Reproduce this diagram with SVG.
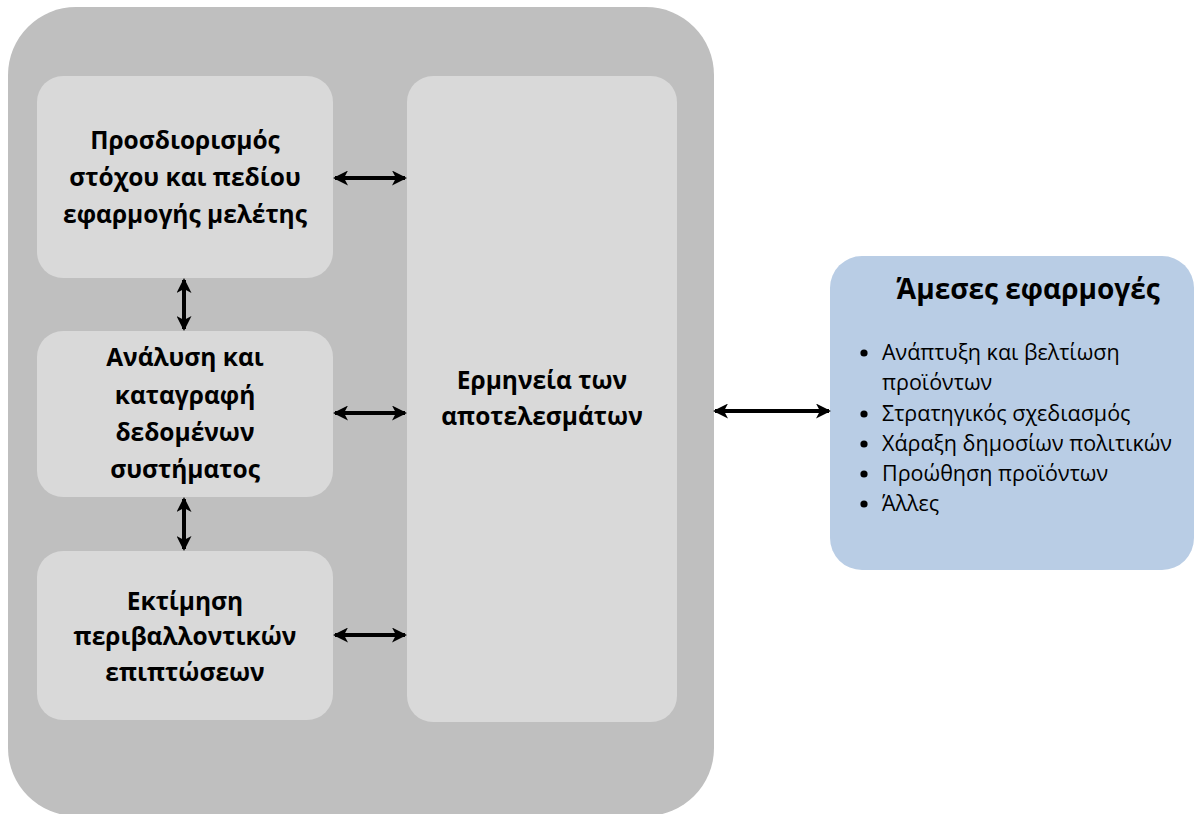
<svg xmlns="http://www.w3.org/2000/svg" width="1194" height="814" viewBox="0 0 1194 814">
<defs>
<style>
.t{font-family:"Open Sans","Noto Sans","DejaVu Sans",sans-serif;fill:#000}
.b{font-weight:bold;font-size:24.5px;text-anchor:middle}
.li{font-size:21.5px}
.box{fill:#d9d9d9}
.con{stroke:#000;stroke-width:4;fill:none}
</style>
<marker id="ah" viewBox="0 0 15 15" refX="13" refY="7.5" markerWidth="15" markerHeight="15" markerUnits="userSpaceOnUse" orient="auto-start-reverse">
<path d="M0,0 L15,7.5 L0,15 L4,7.5 Z" fill="#000"/>
</marker>
</defs>
<rect width="1194" height="814" fill="#fff"/>
<g id="outer"><rect x="8" y="7" width="706" height="809" rx="68" fill="#bfbfbf"/></g>
<g id="n1"><rect class="box" x="37" y="76" width="296" height="202" rx="26"/>
<text class="t b" x="185" y="149">Προσδιορισμός</text>
<text class="t b" x="185" y="186">στόχου και πεδίου</text>
<text class="t b" x="185" y="223">εφαρμογής μελέτης</text></g>
<g id="n2"><rect class="box" x="37" y="331" width="296" height="166" rx="26"/>
<text class="t b" x="185" y="366">Ανάλυση και</text>
<text class="t b" x="185" y="404">καταγραφή</text>
<text class="t b" x="185" y="441">δεδομένων</text>
<text class="t b" x="185" y="478">συστήματος</text></g>
<g id="n3"><rect class="box" x="37" y="551" width="296" height="169" rx="26"/>
<text class="t b" x="185" y="610">Εκτίμηση</text>
<text class="t b" x="185" y="645">περιβαλλοντικών</text>
<text class="t b" x="185" y="681">επιπτώσεων</text></g>
<g id="n4"><rect class="box" x="407" y="76" width="270" height="646" rx="26"/>
<text class="t b" x="542" y="389">Ερμηνεία των</text>
<text class="t b" x="542" y="425">αποτελεσμάτων</text></g>
<g id="n5"><rect x="830" y="256" width="364" height="314" rx="32" fill="#b9cde5"/>
<text class="t" x="1028" y="299" font-size="28" font-weight="bold" text-anchor="middle">Άμεσες εφαρμογές</text>
<g class="t li">
<circle cx="864" cy="353" r="3.6"/><text x="882" y="360">Ανάπτυξη και βελτίωση</text>
<text x="882" y="390">προϊόντων</text>
<circle cx="864" cy="414" r="3.6"/><text x="882" y="421">Στρατηγικός σχεδιασμός</text>
<circle cx="864" cy="444" r="3.6"/><text x="882" y="451">Χάραξη δημοσίων πολιτικών</text>
<circle cx="864" cy="474" r="3.6"/><text x="882" y="481">Προώθηση προϊόντων</text>
<circle cx="864" cy="504" r="3.6"/><text x="882" y="511">Άλλες</text>
</g></g>
<g id="connectors" class="con">
<line x1="335" y1="178" x2="405" y2="178" marker-start="url(#ah)" marker-end="url(#ah)"/>
<line x1="335" y1="413" x2="405" y2="413" marker-start="url(#ah)" marker-end="url(#ah)"/>
<line x1="335" y1="635" x2="405" y2="635" marker-start="url(#ah)" marker-end="url(#ah)"/>
<line x1="184" y1="280" x2="184" y2="329" marker-start="url(#ah)" marker-end="url(#ah)"/>
<line x1="184" y1="499" x2="184" y2="549" marker-start="url(#ah)" marker-end="url(#ah)"/>
<line x1="715" y1="411" x2="829" y2="411" marker-start="url(#ah)" marker-end="url(#ah)"/>
</g>
</svg>
